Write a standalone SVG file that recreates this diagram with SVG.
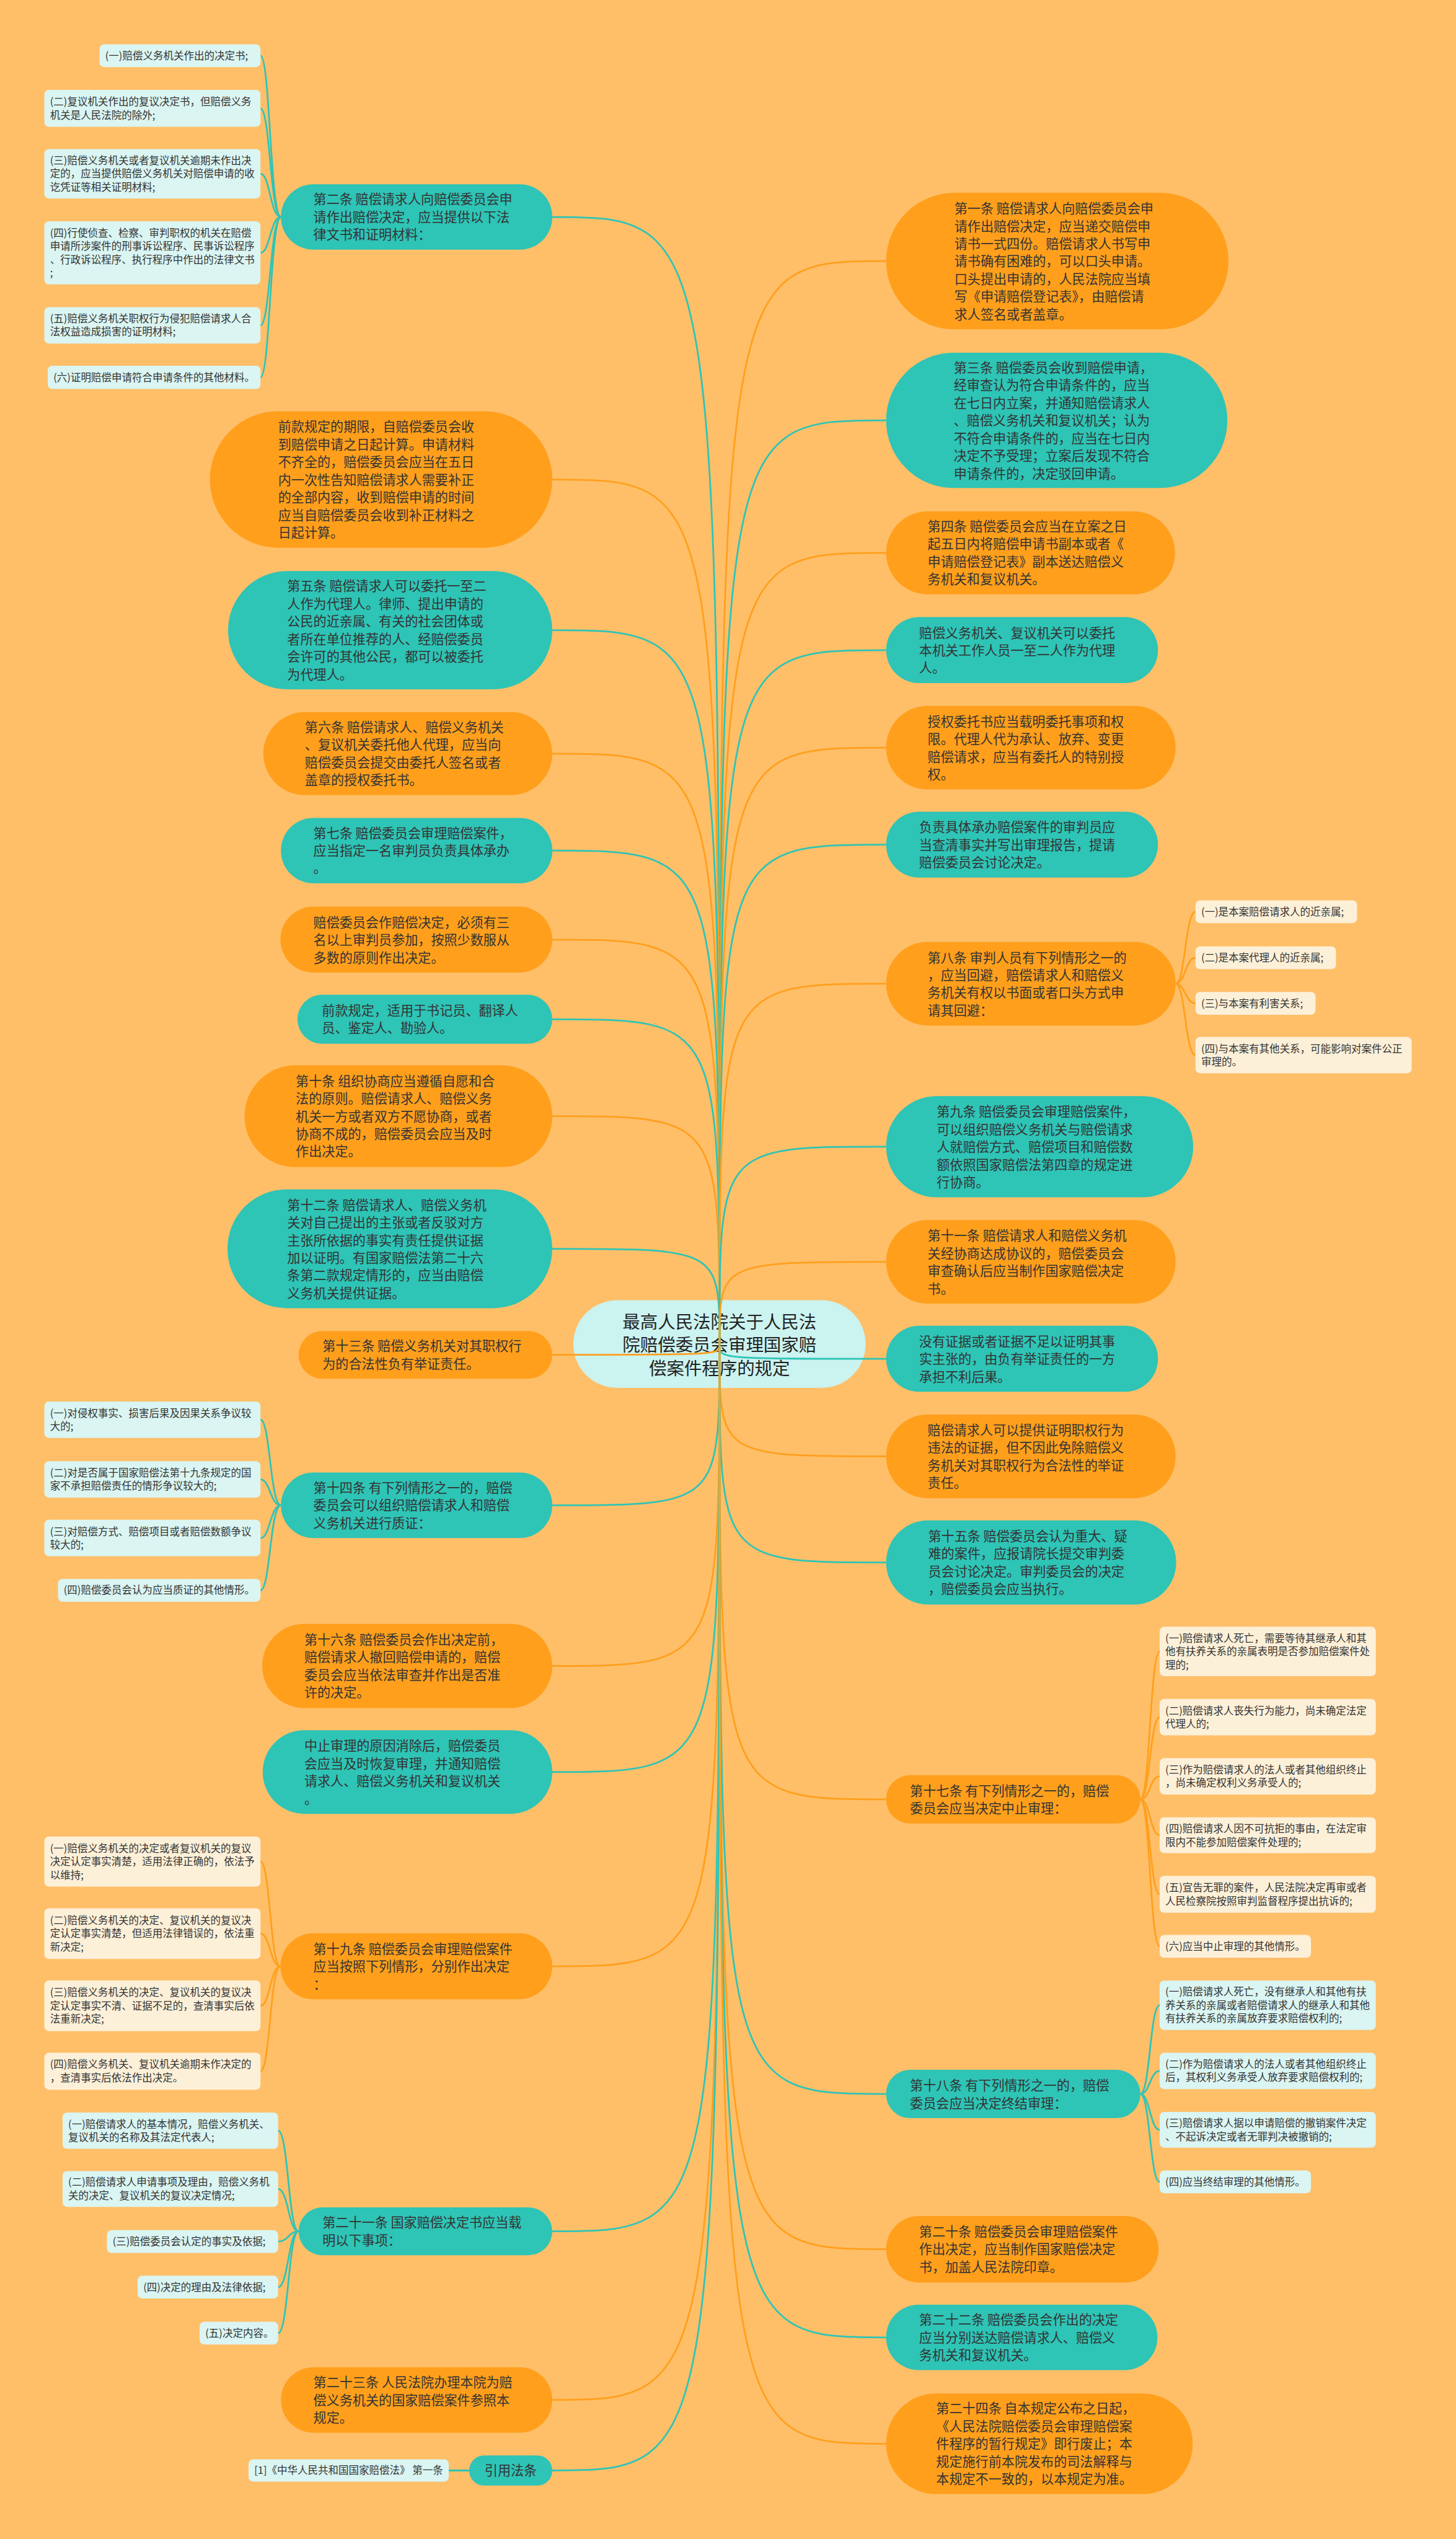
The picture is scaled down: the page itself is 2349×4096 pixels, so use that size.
<svg xmlns="http://www.w3.org/2000/svg" width="2349" height="4096" viewBox="0 0 2349 4096">
<style>
text{font-family:"Noto Sans CJK SC","Noto Sans",sans-serif;fill:#333}
.m{font-size:23px}
.s{font-size:18px}
.r{font-size:31px;fill:#222;text-anchor:middle}
.t{fill:#2ec4b6}
.o{fill:#ff9f1c}
.lc{fill:#daf5f2}
.lo{fill:#fdf0d8}
.cn path{fill:none;stroke-width:3}
.ct{stroke:#2ec4b6}
.co{stroke:#ff9f1c}
</style>
<rect width="2349" height="4096" fill="#ffbf69"/>
<g transform="scale(0.917578)">
<g id="root">
<rect x="1008" y="2286" width="514" height="154" rx="77" fill="#cbf3f0"/>
<text class="r" x="1265" y="2335">最高人民法院关于人民法</text>
<text class="r" x="1265" y="2376">院赔偿委员会审理国家赔</text>
<text class="r" x="1265" y="2417">偿案件程序的规定</text>
</g>
<g id="connectors" class="cn">
<!-- root to left -->
<path class="ct" d="M1265 2365C1265 381.5 1265 381.5 971 381.5"/>
<path class="co" d="M1265 2365C1265 843 1265 843 971 843"/>
<path class="ct" d="M1265 2365C1265 1108 1265 1108 971 1108"/>
<path class="co" d="M1265 2365C1265 1325 1265 1325 971 1325"/>
<path class="ct" d="M1265 2365C1265 1495.5 1265 1495.5 971 1495.5"/>
<path class="co" d="M1265 2365C1265 1652 1265 1652 971 1652"/>
<path class="ct" d="M1265 2365C1265 1792 1265 1792 971 1792"/>
<path class="co" d="M1265 2365C1265 1962.5 1265 1962.5 971 1962.5"/>
<path class="ct" d="M1265 2365C1265 2195.5 1265 2195.5 971 2195.5"/>
<path class="co" d="M1265 2365C1265 2382 1265 2382 971 2382"/>
<path class="ct" d="M1265 2365C1265 2646.5 1265 2646.5 971 2646.5"/>
<path class="co" d="M1265 2365C1265 2929 1265 2929 971 2929"/>
<path class="ct" d="M1265 2365C1265 3115.5 1265 3115.5 971 3115.5"/>
<path class="co" d="M1265 2365C1265 3457 1265 3457 971 3457"/>
<path class="ct" d="M1265 2365C1265 3923 1265 3923 971 3923"/>
<path class="co" d="M1265 2365C1265 4219.5 1265 4219.5 971 4219.5"/>
<path class="ct" d="M1265 2365C1265 4343.5 1265 4343.5 971 4343.5"/>
<!-- root to right -->
<path class="co" d="M1265 2365C1265 459 1265 459 1558 459"/>
<path class="ct" d="M1265 2365C1265 739 1265 739 1558 739"/>
<path class="co" d="M1265 2365C1265 972 1265 972 1558 972"/>
<path class="ct" d="M1265 2365C1265 1143 1265 1143 1558 1143"/>
<path class="co" d="M1265 2365C1265 1314.5 1265 1314.5 1558 1314.5"/>
<path class="ct" d="M1265 2365C1265 1485 1265 1485 1558 1485"/>
<path class="co" d="M1265 2365C1265 1729.5 1265 1729.5 1558 1729.5"/>
<path class="ct" d="M1265 2365C1265 2016 1265 2016 1558 2016"/>
<path class="co" d="M1265 2365C1265 2218.5 1265 2218.5 1558 2218.5"/>
<path class="ct" d="M1265 2365C1265 2389 1265 2389 1558 2389"/>
<path class="co" d="M1265 2365C1265 2560.5 1265 2560.5 1558 2560.5"/>
<path class="ct" d="M1265 2365C1265 2747 1265 2747 1558 2747"/>
<path class="co" d="M1265 2365C1265 3163.5 1265 3163.5 1558 3163.5"/>
<path class="ct" d="M1265 2365C1265 3681.5 1265 3681.5 1558 3681.5"/>
<path class="co" d="M1265 2365C1265 3954.5 1265 3954.5 1558 3954.5"/>
<path class="ct" d="M1265 2365C1265 4109.5 1265 4109.5 1558 4109.5"/>
<path class="co" d="M1265 2365C1265 4296.5 1265 4296.5 1558 4296.5"/>
<!-- 第二条 children -->
<path class="ct" d="M494 381.5C475 381.5 475 98 458 98"/>
<path class="ct" d="M494 381.5C475 381.5 475 190.5 458 190.5"/>
<path class="ct" d="M494 381.5C475 381.5 475 305.5 458 305.5"/>
<path class="ct" d="M494 381.5C475 381.5 475 444.5 458 444.5"/>
<path class="ct" d="M494 381.5C475 381.5 475 572 458 572"/>
<path class="ct" d="M494 381.5C475 381.5 475 663.5 458 663.5"/>
<!-- 第十四条 children -->
<path class="ct" d="M494 2646.5C475 2646.5 475 2496 458 2496"/>
<path class="ct" d="M494 2646.5C475 2646.5 475 2601 458 2601"/>
<path class="ct" d="M494 2646.5C475 2646.5 475 2704 458 2704"/>
<path class="ct" d="M494 2646.5C475 2646.5 475 2796 458 2796"/>
<!-- 第十九条 children -->
<path class="co" d="M493 3457C475 3457 475 3273 458 3273"/>
<path class="co" d="M493 3457C475 3457 475 3399.5 458 3399.5"/>
<path class="co" d="M493 3457C475 3457 475 3526.5 458 3526.5"/>
<path class="co" d="M493 3457C475 3457 475 3641.5 458 3641.5"/>
<!-- 第二十一条 children -->
<path class="ct" d="M525 3923C507 3923 507 3746 489 3746"/>
<path class="ct" d="M525 3923C507 3923 507 3848.5 489 3848.5"/>
<path class="ct" d="M525 3923C507 3923 507 3941 489 3941"/>
<path class="ct" d="M525 3923C507 3923 507 4021 489 4021"/>
<path class="ct" d="M525 3923C507 3923 507 4102 489 4102"/>
<!-- 引用法条 child -->
<path class="ct" d="M825 4343.5L789 4343.5"/>
<!-- 第八条 children -->
<path class="co" d="M2067 1729.5C2084 1729.5 2084 1603 2102 1603"/>
<path class="co" d="M2067 1729.5C2084 1729.5 2084 1684 2102 1684"/>
<path class="co" d="M2067 1729.5C2084 1729.5 2084 1764 2102 1764"/>
<path class="co" d="M2067 1729.5C2084 1729.5 2084 1855 2102 1855"/>
<!-- 第十七条 children -->
<path class="co" d="M2005 3163.5C2022 3163.5 2022 2903.5 2039 2903.5"/>
<path class="co" d="M2005 3163.5C2022 3163.5 2022 3019 2039 3019"/>
<path class="co" d="M2005 3163.5C2022 3163.5 2022 3123 2039 3123"/>
<path class="co" d="M2005 3163.5C2022 3163.5 2022 3226.5 2039 3226.5"/>
<path class="co" d="M2005 3163.5C2022 3163.5 2022 3330.5 2039 3330.5"/>
<path class="co" d="M2005 3163.5C2022 3163.5 2022 3422 2039 3422"/>
<!-- 第十八条 children -->
<path class="ct" d="M2005 3681.5C2022 3681.5 2022 3525.5 2039 3525.5"/>
<path class="ct" d="M2005 3681.5C2022 3681.5 2022 3641 2039 3641"/>
<path class="ct" d="M2005 3681.5C2022 3681.5 2022 3744.5 2039 3744.5"/>
<path class="ct" d="M2005 3681.5C2022 3681.5 2022 3836 2039 3836"/>
</g>

<!-- LEFT MAIN NODES -->
<g id="n2">
<rect class="t" x="494" y="324" width="477" height="115" rx="57"/>
<text class="m" x="551" y="359">第二条 赔偿请求人向赔偿委员会申</text>
<text class="m" x="551" y="390">请作出赔偿决定，应当提供以下法</text>
<text class="m" x="551" y="421">律文书和证明材料：</text>
</g>
<g id="n2s1"><rect class="lc" x="175" y="78" width="283" height="40" rx="8"/>
<text class="s" x="185" y="104.5">(一)赔偿义务机关作出的决定书;</text></g>
<g id="n2s2"><rect class="lc" x="78" y="158" width="380" height="65" rx="8"/>
<text class="s" x="88" y="185">(二)复议机关作出的复议决定书，但赔偿义务</text>
<text class="s" x="88" y="209">机关是人民法院的除外;</text></g>
<g id="n2s3"><rect class="lc" x="78" y="262" width="380" height="87" rx="8"/>
<text class="s" x="88" y="288.5">(三)赔偿义务机关或者复议机关逾期未作出决</text>
<text class="s" x="88" y="312">定的，应当提供赔偿义务机关对赔偿申请的收</text>
<text class="s" x="88" y="335.5">讫凭证等相关证明材料;</text></g>
<g id="n2s4"><rect class="lc" x="78" y="389" width="380" height="111" rx="8"/>
<text class="s" x="88" y="416">(四)行使侦查、检察、审判职权的机关在赔偿</text>
<text class="s" x="88" y="439">申请所涉案件的刑事诉讼程序、民事诉讼程序</text>
<text class="s" x="88" y="463">、行政诉讼程序、执行程序中作出的法律文书</text>
<text class="s" x="88" y="486">;</text></g>
<g id="n2s5"><rect class="lc" x="78" y="540" width="380" height="64" rx="8"/>
<text class="s" x="88" y="567">(五)赔偿义务机关职权行为侵犯赔偿请求人合</text>
<text class="s" x="88" y="590">法权益造成损害的证明材料;</text></g>
<g id="n2s6"><rect class="lc" x="84" y="643" width="374" height="41" rx="8"/>
<text class="s" x="94" y="670">(六)证明赔偿申请符合申请条件的其他材料。</text></g>

<g id="nqk">
<rect class="o" x="369" y="723" width="602" height="240" rx="120"/>
<text class="m" x="489" y="759">前款规定的期限，自赔偿委员会收</text>
<text class="m" x="489" y="790">到赔偿申请之日起计算。申请材料</text>
<text class="m" x="489" y="821">不齐全的，赔偿委员会应当在五日</text>
<text class="m" x="489" y="852">内一次性告知赔偿请求人需要补正</text>
<text class="m" x="489" y="883">的全部内容，收到赔偿申请的时间</text>
<text class="m" x="489" y="914">应当自赔偿委员会收到补正材料之</text>
<text class="m" x="489" y="945">日起计算。</text>
</g>
<g id="n5">
<rect class="t" x="401" y="1004" width="570" height="208" rx="104"/>
<text class="m" x="505" y="1039">第五条 赔偿请求人可以委托一至二</text>
<text class="m" x="505" y="1070">人作为代理人。律师、提出申请的</text>
<text class="m" x="505" y="1101">公民的近亲属、有关的社会团体或</text>
<text class="m" x="505" y="1132">者所在单位推荐的人、经赔偿委员</text>
<text class="m" x="505" y="1163">会许可的其他公民，都可以被委托</text>
<text class="m" x="505" y="1194">为代理人。</text>
</g>
<g id="n6">
<rect class="o" x="463" y="1252" width="508" height="146" rx="73"/>
<text class="m" x="536" y="1287">第六条 赔偿请求人、赔偿义务机关</text>
<text class="m" x="536" y="1318">、复议机关委托他人代理，应当向</text>
<text class="m" x="536" y="1349">赔偿委员会提交由委托人签名或者</text>
<text class="m" x="536" y="1380">盖章的授权委托书。</text>
</g>
<g id="n7">
<rect class="t" x="494" y="1438" width="477" height="115" rx="57"/>
<text class="m" x="551" y="1473">第七条 赔偿委员会审理赔偿案件，</text>
<text class="m" x="551" y="1504">应当指定一名审判员负责具体承办</text>
<text class="m" x="551" y="1535">。</text>
</g>
<g id="n7b">
<rect class="o" x="493" y="1594" width="478" height="116" rx="58"/>
<text class="m" x="551" y="1630">赔偿委员会作赔偿决定，必须有三</text>
<text class="m" x="551" y="1661">名以上审判员参加，按照少数服从</text>
<text class="m" x="551" y="1692">多数的原则作出决定。</text>
</g>
<g id="n7c">
<rect class="t" x="523" y="1749" width="448" height="86" rx="43"/>
<text class="m" x="566" y="1785">前款规定，适用于书记员、翻译人</text>
<text class="m" x="566" y="1816">员、鉴定人、勘验人。</text>
</g>
<g id="n10">
<rect class="o" x="430" y="1873" width="541" height="179" rx="89"/>
<text class="m" x="520" y="1909">第十条 组织协商应当遵循自愿和合</text>
<text class="m" x="520" y="1940">法的原则。赔偿请求人、赔偿义务</text>
<text class="m" x="520" y="1971">机关一方或者双方不愿协商，或者</text>
<text class="m" x="520" y="2002">协商不成的，赔偿委员会应当及时</text>
<text class="m" x="520" y="2033">作出决定。</text>
</g>
<g id="n12">
<rect class="t" x="400" y="2091" width="571" height="209" rx="104"/>
<text class="m" x="505" y="2127">第十二条 赔偿请求人、赔偿义务机</text>
<text class="m" x="505" y="2158">关对自己提出的主张或者反驳对方</text>
<text class="m" x="505" y="2189">主张所依据的事实有责任提供证据</text>
<text class="m" x="505" y="2220">加以证明。有国家赔偿法第二十六</text>
<text class="m" x="505" y="2251">条第二款规定情形的，应当由赔偿</text>
<text class="m" x="505" y="2282">义务机关提供证据。</text>
</g>
<g id="n13">
<rect class="o" x="525" y="2340" width="446" height="84" rx="42"/>
<text class="m" x="567" y="2375">第十三条 赔偿义务机关对其职权行</text>
<text class="m" x="567" y="2406">为的合法性负有举证责任。</text>
</g>
<g id="n14">
<rect class="t" x="494" y="2589" width="477" height="115" rx="57"/>
<text class="m" x="551" y="2624">第十四条 有下列情形之一的，赔偿</text>
<text class="m" x="551" y="2655">委员会可以组织赔偿请求人和赔偿</text>
<text class="m" x="551" y="2686">义务机关进行质证：</text>
</g>
<g id="n14s1"><rect class="lc" x="78" y="2464" width="380" height="64" rx="8"/>
<text class="s" x="88" y="2491">(一)对侵权事实、损害后果及因果关系争议较</text>
<text class="s" x="88" y="2514">大的;</text></g>
<g id="n14s2"><rect class="lc" x="78" y="2569" width="380" height="64" rx="8"/>
<text class="s" x="88" y="2596">(二)对是否属于国家赔偿法第十九条规定的国</text>
<text class="s" x="88" y="2619">家不承担赔偿责任的情形争议较大的;</text></g>
<g id="n14s3"><rect class="lc" x="78" y="2672" width="380" height="64" rx="8"/>
<text class="s" x="88" y="2699">(三)对赔偿方式、赔偿项目或者赔偿数额争议</text>
<text class="s" x="88" y="2722">较大的;</text></g>
<g id="n14s4"><rect class="lc" x="102" y="2776" width="356" height="40" rx="8"/>
<text class="s" x="112" y="2802.5">(四)赔偿委员会认为应当质证的其他情形。</text></g>
<g id="n16">
<rect class="o" x="461" y="2855" width="510" height="148" rx="74"/>
<text class="m" x="535" y="2891">第十六条 赔偿委员会作出决定前，</text>
<text class="m" x="535" y="2922">赔偿请求人撤回赔偿申请的，赔偿</text>
<text class="m" x="535" y="2953">委员会应当依法审查并作出是否准</text>
<text class="m" x="535" y="2984">许的决定。</text>
</g>
<g id="n16b">
<rect class="t" x="462" y="3042" width="509" height="147" rx="73"/>
<text class="m" x="535" y="3078">中止审理的原因消除后，赔偿委员</text>
<text class="m" x="535" y="3109">会应当及时恢复审理，并通知赔偿</text>
<text class="m" x="535" y="3140">请求人、赔偿义务机关和复议机关</text>
<text class="m" x="535" y="3171">。</text>
</g>
<g id="n19">
<rect class="o" x="493" y="3399" width="478" height="116" rx="58"/>
<text class="m" x="551" y="3435">第十九条 赔偿委员会审理赔偿案件</text>
<text class="m" x="551" y="3466">应当按照下列情形，分别作出决定</text>
<text class="m" x="551" y="3497">：</text>
</g>
<g id="n19s1"><rect class="lo" x="78" y="3229" width="380" height="88" rx="8"/>
<text class="s" x="88" y="3256">(一)赔偿义务机关的决定或者复议机关的复议</text>
<text class="s" x="88" y="3279.5">决定认定事实清楚，适用法律正确的，依法予</text>
<text class="s" x="88" y="3303">以维持;</text></g>
<g id="n19s2"><rect class="lo" x="78" y="3355" width="380" height="89" rx="8"/>
<text class="s" x="88" y="3382.5">(二)赔偿义务机关的决定、复议机关的复议决</text>
<text class="s" x="88" y="3406">定认定事实清楚，但适用法律错误的，依法重</text>
<text class="s" x="88" y="3429.5">新决定;</text></g>
<g id="n19s3"><rect class="lo" x="78" y="3482" width="380" height="89" rx="8"/>
<text class="s" x="88" y="3509.5">(三)赔偿义务机关的决定、复议机关的复议决</text>
<text class="s" x="88" y="3533">定认定事实不清、证据不足的，查清事实后依</text>
<text class="s" x="88" y="3556.5">法重新决定;</text></g>
<g id="n19s4"><rect class="lo" x="78" y="3609" width="380" height="65" rx="8"/>
<text class="s" x="88" y="3636">(四)赔偿义务机关、复议机关逾期未作决定的</text>
<text class="s" x="88" y="3660">，查清事实后依法作出决定。</text></g>
<g id="n21">
<rect class="t" x="525" y="3881" width="446" height="84" rx="42"/>
<text class="m" x="567" y="3916">第二十一条 国家赔偿决定书应当载</text>
<text class="m" x="567" y="3947">明以下事项：</text>
</g>
<g id="n21s1"><rect class="lc" x="110" y="3714" width="379" height="64" rx="8"/>
<text class="s" x="120" y="3741">(一)赔偿请求人的基本情况，赔偿义务机关、</text>
<text class="s" x="120" y="3764">复议机关的名称及其法定代表人;</text></g>
<g id="n21s2"><rect class="lc" x="110" y="3817" width="379" height="63" rx="8"/>
<text class="s" x="120" y="3843">(二)赔偿请求人申请事项及理由，赔偿义务机</text>
<text class="s" x="120" y="3867">关的决定、复议机关的复议决定情况;</text></g>
<g id="n21s3"><rect class="lc" x="188" y="3921" width="301" height="40" rx="8"/>
<text class="s" x="198" y="3947.5">(三)赔偿委员会认定的事实及依据;</text></g>
<g id="n21s4"><rect class="lc" x="242" y="4001" width="247" height="40" rx="8"/>
<text class="s" x="252" y="4027.5">(四)决定的理由及法律依据;</text></g>
<g id="n21s5"><rect class="lc" x="351" y="4082" width="138" height="40" rx="8"/>
<text class="s" x="361" y="4108.5">(五)决定内容。</text></g>
<g id="n23">
<rect class="o" x="494" y="4162" width="477" height="115" rx="57"/>
<text class="m" x="551" y="4197">第二十三条 人民法院办理本院为赔</text>
<text class="m" x="551" y="4228">偿义务机关的国家赔偿案件参照本</text>
<text class="m" x="551" y="4259">规定。</text>
</g>
<g id="nref">
<rect class="t" x="825" y="4317" width="146" height="53" rx="26"/>
<text class="m" x="898" y="4352" text-anchor="middle">引用法条</text>
</g>
<g id="nref1"><rect class="lc" x="437" y="4324" width="352" height="39" rx="8"/>
<text class="s" x="447" y="4350">[1]《中华人民共和国国家赔偿法》 第一条</text></g>

<!-- RIGHT MAIN NODES -->
<g id="n1">
<rect class="o" x="1558" y="339" width="602" height="240" rx="120"/>
<text class="m" x="1678" y="375">第一条 赔偿请求人向赔偿委员会申</text>
<text class="m" x="1678" y="406">请作出赔偿决定，应当递交赔偿申</text>
<text class="m" x="1678" y="437">请书一式四份。赔偿请求人书写申</text>
<text class="m" x="1678" y="468">请书确有困难的，可以口头申请。</text>
<text class="m" x="1678" y="499">口头提出申请的，人民法院应当填</text>
<text class="m" x="1678" y="530">写《申请赔偿登记表》，由赔偿请</text>
<text class="m" x="1678" y="561">求人签名或者盖章。</text>
</g>
<g id="n3">
<rect class="t" x="1558" y="620" width="600" height="238" rx="119"/>
<text class="m" x="1677" y="655">第三条 赔偿委员会收到赔偿申请，</text>
<text class="m" x="1677" y="686">经审查认为符合申请条件的，应当</text>
<text class="m" x="1677" y="717">在七日内立案，并通知赔偿请求人</text>
<text class="m" x="1677" y="748">、赔偿义务机关和复议机关；认为</text>
<text class="m" x="1677" y="779">不符合申请条件的，应当在七日内</text>
<text class="m" x="1677" y="810">决定不予受理；立案后发现不符合</text>
<text class="m" x="1677" y="841">申请条件的，决定驳回申请。</text>
</g>
<g id="n4">
<rect class="o" x="1558" y="899" width="508" height="146" rx="73"/>
<text class="m" x="1631" y="934">第四条 赔偿委员会应当在立案之日</text>
<text class="m" x="1631" y="965">起五日内将赔偿申请书副本或者《</text>
<text class="m" x="1631" y="996">申请赔偿登记表》副本送达赔偿义</text>
<text class="m" x="1631" y="1027">务机关和复议机关。</text>
</g>
<g id="n5b">
<rect class="t" x="1558" y="1085" width="478" height="116" rx="58"/>
<text class="m" x="1616" y="1121">赔偿义务机关、复议机关可以委托</text>
<text class="m" x="1616" y="1152">本机关工作人员一至二人作为代理</text>
<text class="m" x="1616" y="1183">人。</text>
</g>
<g id="n6b">
<rect class="o" x="1558" y="1241" width="509" height="147" rx="73"/>
<text class="m" x="1631" y="1277">授权委托书应当载明委托事项和权</text>
<text class="m" x="1631" y="1308">限。代理人代为承认、放弃、变更</text>
<text class="m" x="1631" y="1339">赔偿请求，应当有委托人的特别授</text>
<text class="m" x="1631" y="1370">权。</text>
</g>
<g id="n7r">
<rect class="t" x="1558" y="1427" width="478" height="116" rx="58"/>
<text class="m" x="1616" y="1463">负责具体承办赔偿案件的审判员应</text>
<text class="m" x="1616" y="1494">当查清事实并写出审理报告，提请</text>
<text class="m" x="1616" y="1525">赔偿委员会讨论决定。</text>
</g>
<g id="n8">
<rect class="o" x="1558" y="1656" width="509" height="147" rx="73"/>
<text class="m" x="1631" y="1692">第八条 审判人员有下列情形之一的</text>
<text class="m" x="1631" y="1723">，应当回避，赔偿请求人和赔偿义</text>
<text class="m" x="1631" y="1754">务机关有权以书面或者口头方式申</text>
<text class="m" x="1631" y="1785">请其回避：</text>
</g>
<g id="n8s1"><rect class="lo" x="2102" y="1583" width="284" height="40" rx="8"/>
<text class="s" x="2112" y="1609.5">(一)是本案赔偿请求人的近亲属;</text></g>
<g id="n8s2"><rect class="lo" x="2102" y="1664" width="247" height="40" rx="8"/>
<text class="s" x="2112" y="1690.5">(二)是本案代理人的近亲属;</text></g>
<g id="n8s3"><rect class="lo" x="2102" y="1744" width="211" height="40" rx="8"/>
<text class="s" x="2112" y="1770.5">(三)与本案有利害关系;</text></g>
<g id="n8s4"><rect class="lo" x="2102" y="1823" width="380" height="64" rx="8"/>
<text class="s" x="2112" y="1850">(四)与本案有其他关系，可能影响对案件公正</text>
<text class="s" x="2112" y="1873">审理的。</text></g>
<g id="n9">
<rect class="t" x="1558" y="1927" width="540" height="178" rx="89"/>
<text class="m" x="1647" y="1963">第九条 赔偿委员会审理赔偿案件，</text>
<text class="m" x="1647" y="1994">可以组织赔偿义务机关与赔偿请求</text>
<text class="m" x="1647" y="2025">人就赔偿方式、赔偿项目和赔偿数</text>
<text class="m" x="1647" y="2056">额依照国家赔偿法第四章的规定进</text>
<text class="m" x="1647" y="2087">行协商。</text>
</g>
<g id="n11">
<rect class="o" x="1558" y="2145" width="509" height="147" rx="73"/>
<text class="m" x="1631" y="2181">第十一条 赔偿请求人和赔偿义务机</text>
<text class="m" x="1631" y="2212">关经协商达成协议的，赔偿委员会</text>
<text class="m" x="1631" y="2243">审查确认后应当制作国家赔偿决定</text>
<text class="m" x="1631" y="2274">书。</text>
</g>
<g id="n12r">
<rect class="t" x="1558" y="2331" width="478" height="116" rx="58"/>
<text class="m" x="1616" y="2367">没有证据或者证据不足以证明其事</text>
<text class="m" x="1616" y="2398">实主张的，由负有举证责任的一方</text>
<text class="m" x="1616" y="2429">承担不利后果。</text>
</g>
<g id="n13r">
<rect class="o" x="1558" y="2487" width="509" height="147" rx="73"/>
<text class="m" x="1631" y="2523">赔偿请求人可以提供证明职权行为</text>
<text class="m" x="1631" y="2554">违法的证据，但不因此免除赔偿义</text>
<text class="m" x="1631" y="2585">务机关对其职权行为合法性的举证</text>
<text class="m" x="1631" y="2616">责任。</text>
</g>
<g id="n15">
<rect class="t" x="1558" y="2673" width="510" height="148" rx="74"/>
<text class="m" x="1632" y="2709">第十五条 赔偿委员会认为重大、疑</text>
<text class="m" x="1632" y="2740">难的案件，应报请院长提交审判委</text>
<text class="m" x="1632" y="2771">员会讨论决定。审判委员会的决定</text>
<text class="m" x="1632" y="2802">，赔偿委员会应当执行。</text>
</g>
<g id="n17">
<rect class="o" x="1558" y="3121" width="447" height="85" rx="42"/>
<text class="m" x="1600" y="3157">第十七条 有下列情形之一的，赔偿</text>
<text class="m" x="1600" y="3188">委员会应当决定中止审理：</text>
</g>
<g id="n17s1"><rect class="lo" x="2039" y="2860" width="380" height="87" rx="8"/>
<text class="s" x="2049" y="2886.5">(一)赔偿请求人死亡，需要等待其继承人和其</text>
<text class="s" x="2049" y="2910">他有扶养关系的亲属表明是否参加赔偿案件处</text>
<text class="s" x="2049" y="2933.5">理的;</text></g>
<g id="n17s2"><rect class="lo" x="2039" y="2987" width="380" height="64" rx="8"/>
<text class="s" x="2049" y="3014">(二)赔偿请求人丧失行为能力，尚未确定法定</text>
<text class="s" x="2049" y="3037">代理人的;</text></g>
<g id="n17s3"><rect class="lo" x="2039" y="3091" width="380" height="64" rx="8"/>
<text class="s" x="2049" y="3118">(三)作为赔偿请求人的法人或者其他组织终止</text>
<text class="s" x="2049" y="3141">，尚未确定权利义务承受人的;</text></g>
<g id="n17s4"><rect class="lo" x="2039" y="3195" width="380" height="63" rx="8"/>
<text class="s" x="2049" y="3221.5">(四)赔偿请求人因不可抗拒的事由，在法定审</text>
<text class="s" x="2049" y="3245">限内不能参加赔偿案件处理的;</text></g>
<g id="n17s5"><rect class="lo" x="2039" y="3298" width="380" height="65" rx="8"/>
<text class="s" x="2049" y="3325">(五)宣告无罪的案件，人民法院决定再审或者</text>
<text class="s" x="2049" y="3349">人民检察院按照审判监督程序提出抗诉的;</text></g>
<g id="n17s6"><rect class="lo" x="2039" y="3402" width="266" height="40" rx="8"/>
<text class="s" x="2049" y="3428.5">(六)应当中止审理的其他情形。</text></g>
<g id="n18">
<rect class="t" x="1558" y="3639" width="447" height="85" rx="42"/>
<text class="m" x="1600" y="3675">第十八条 有下列情形之一的，赔偿</text>
<text class="m" x="1600" y="3706">委员会应当决定终结审理：</text>
</g>
<g id="n18s1"><rect class="lc" x="2039" y="3482" width="380" height="87" rx="8"/>
<text class="s" x="2049" y="3508.5">(一)赔偿请求人死亡，没有继承人和其他有扶</text>
<text class="s" x="2049" y="3532">养关系的亲属或者赔偿请求人的继承人和其他</text>
<text class="s" x="2049" y="3555.5">有扶养关系的亲属放弃要求赔偿权利的;</text></g>
<g id="n18s2"><rect class="lc" x="2039" y="3609" width="380" height="64" rx="8"/>
<text class="s" x="2049" y="3636">(二)作为赔偿请求人的法人或者其他组织终止</text>
<text class="s" x="2049" y="3659">后，其权利义务承受人放弃要求赔偿权利的;</text></g>
<g id="n18s3"><rect class="lc" x="2039" y="3713" width="380" height="63" rx="8"/>
<text class="s" x="2049" y="3739.5">(三)赔偿请求人据以申请赔偿的撤销案件决定</text>
<text class="s" x="2049" y="3763">、不起诉决定或者无罪判决被撤销的;</text></g>
<g id="n18s4"><rect class="lc" x="2039" y="3816" width="266" height="40" rx="8"/>
<text class="s" x="2049" y="3842.5">(四)应当终结审理的其他情形。</text></g>
<g id="n20">
<rect class="o" x="1558" y="3896" width="479" height="117" rx="58"/>
<text class="m" x="1616" y="3932">第二十条 赔偿委员会审理赔偿案件</text>
<text class="m" x="1616" y="3963">作出决定，应当制作国家赔偿决定</text>
<text class="m" x="1616" y="3994">书，加盖人民法院印章。</text>
</g>
<g id="n22">
<rect class="t" x="1558" y="4052" width="477" height="115" rx="57"/>
<text class="m" x="1616" y="4087">第二十二条 赔偿委员会作出的决定</text>
<text class="m" x="1616" y="4118">应当分别送达赔偿请求人、赔偿义</text>
<text class="m" x="1616" y="4149">务机关和复议机关。</text>
</g>
<g id="n24">
<rect class="o" x="1558" y="4208" width="539" height="177" rx="88"/>
<text class="m" x="1646" y="4243">第二十四条 自本规定公布之日起，</text>
<text class="m" x="1646" y="4274">《人民法院赔偿委员会审理赔偿案</text>
<text class="m" x="1646" y="4305">件程序的暂行规定》即行废止；本</text>
<text class="m" x="1646" y="4336">规定施行前本院发布的司法解释与</text>
<text class="m" x="1646" y="4367">本规定不一致的，以本规定为准。</text>
</g>
</g>
</svg>
